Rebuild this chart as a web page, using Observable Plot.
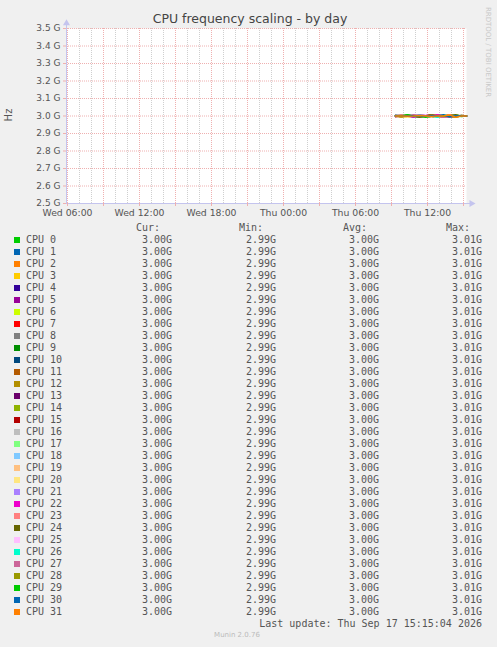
<!DOCTYPE html>
<html><head><meta charset="utf-8">
<script src="https://cdn.jsdelivr.net/npm/d3@7"></script>
<script src="https://cdn.jsdelivr.net/npm/@observablehq/plot@0.6"></script>
<style>
body{margin:0;background:#f0f0f0;width:497px;height:647px;overflow:hidden;font-family:"DejaVu Sans",sans-serif;}
#wrap{position:relative;width:497px;height:647px;}
#chart{position:absolute;left:0;top:0;}
.t{position:absolute;white-space:pre;line-height:12px;height:12px;}
.mono{font-family:"DejaVu Sans Mono",monospace;font-size:10px;color:#555;}
.sw{position:absolute;width:6px;height:6px;}
</style></head><body><div id="wrap"><div id="chart"></div></div>
<script>
// ---- data ----
const cpuNames = Array.from({length: 32}, (_, i) => "CPU " + i);
const cpuColors = ["#00cc00","#0066b3","#ff8000","#ffcc00","#330099","#990099","#ccff00","#ff0000",
  "#808080","#008f00","#00487d","#b35a00","#b38f00","#6b006b","#8fb300","#b30000",
  "#bebebe","#80ff80","#80c9ff","#ffc080","#ffe680","#aa80ff","#ee00cc","#ff8080",
  "#666600","#ffbfff","#00ffcc","#cc6699","#999900","#00cc00","#0066b3","#ff8000"];
// sample times on Thu Sep 17 2026 (UTC)
const times = ["09:20","09:50","10:20","10:50","11:20","11:50","12:20","12:50","13:20","13:50","14:20","14:50","15:15"];
// frequency in MHz per CPU
const cpuMHz = [
 [3002,2998,3007,3000,2996,3001,2993,3000,3003,2999,3001,2997,3000],
 [2999,3003,3000,2994,3001,3006,2998,3000,2997,3002,3000,3001,3000],
 [3000,2996,3001,3003,2999,3000,3007,2993,3000,3002,2998,3001,3000],
 [3001,3000,2993,2999,3004,3000,3001,2998,3007,3000,2997,3002,3000],
 [2997,3002,3000,3001,2993,2999,3003,3000,3001,3006,3000,2998,3000],
 [3003,2999,3001,2997,3000,3007,3000,3002,2994,3000,3001,2999,3000],
 [3000,3001,2998,3006,3000,2997,3002,2993,3000,3001,2999,3003,3000],
 [2998,3000,3003,3000,3001,2994,3000,2999,3002,3007,3000,3001,3000],
 [3001,3007,3000,2998,3002,3000,2997,3001,3000,2993,3003,2999,3000],
 [3000,2998,3002,3001,2993,3000,3004,3000,2999,3001,3007,2998,3000],
 [3004,3000,2999,3001,3000,3002,2993,3006,3000,2998,3001,3000,3000],
 [2999,3002,3000,2997,3007,3000,3001,2999,3003,3000,2994,3001,3000],
 [3000,2993,3001,3003,3000,2999,3000,3007,2998,3001,3002,3000,3000],
 [3002,3000,2997,3000,3001,3006,2999,3000,3001,2993,3000,3003,3000],
 [3001,2999,3006,3002,2998,3000,3001,2997,3000,3003,2993,3000,3000],
 [2996,3001,3000,2999,3003,3000,3007,3000,2994,3001,3000,3002,3000],
 [3000,3003,2999,3000,2993,3001,3000,3002,3006,2998,3001,3000,3000],
 [3003,3000,3001,2998,3000,2993,3002,3000,2999,3001,3007,2999,3000],
 [2999,3001,3000,3007,2998,3002,3000,2994,3001,3000,2999,3003,3000],
 [3001,2997,3003,3000,3002,3000,2993,3001,3000,3006,3000,2998,3000],
 [3000,3002,2993,3001,3000,2998,3003,3000,3007,2999,3001,3000,3000],
 [2998,3000,3001,3003,3006,3000,2999,3001,2993,3000,3002,3001,3000],
 [3002,2999,3000,2994,3001,3003,3000,3007,3000,2998,3001,3000,3000],
 [3000,3006,2998,3001,3000,2999,3002,3000,3001,2993,3000,3002,3000],
 [3001,3000,3003,2999,2993,3001,3000,2998,3002,3000,3007,2999,3000],
 [2997,3001,3000,3002,3000,3007,2998,3000,3001,3003,2994,3000,3000],
 [3000,2998,3002,3000,3003,3000,3001,2993,3006,3000,2999,3001,3000],
 [3003,3000,2999,3007,3000,3001,2998,3000,2993,3002,3000,3001,3000],
 [2999,3002,3000,3001,2997,3000,3006,3001,3000,2999,2993,3003,3000],
 [3001,3000,3007,2999,3001,2993,3000,3002,3000,3001,2998,3000,3000],
 [3000,2999,3001,3002,3000,2998,3003,3000,3007,2994,3001,3000,3000],
 [3000,3001,2999,3000,3002,3000,2998,3001,3000,3006,2993,3001,3000]
];
const yTicks = [2.5,2.6,2.7,2.8,2.9,3.0,3.1,3.2,3.3,3.4,3.5];
const yTickLabels = ["2.5 G","2.6 G","2.7 G","2.8 G","2.9 G","3.0 G","3.1 G","3.2 G","3.3 G","3.4 G","3.5 G"];
const xTickTimes = ["2026-09-16T06:00Z","2026-09-16T12:00Z","2026-09-16T18:00Z","2026-09-17T00:00Z","2026-09-17T06:00Z","2026-09-17T12:00Z"];
const xTickLabels = ["Wed 06:00","Wed 12:00","Wed 18:00","Thu 00:00","Thu 06:00","Thu 12:00"];
const title = "CPU frequency scaling - by day";
const yLabel = "Hz";
const lastUpdate = "Last update: Thu Sep 17 15:15:04 2026";
const footer = "Munin 2.0.76";
const sideText = "RRDTOOL / TOBI OETIKER";

// ---- build ----
const start = new Date("2026-09-16T05:55Z");
const end = new Date("2026-09-17T15:15Z");
const hours = d3.utcHour.range(d3.utcHour.ceil(start), end);
const minorX = hours.filter(d => d.getUTCHours() % 3 !== 0);
const majorX = hours.filter(d => d.getUTCHours() % 3 === 0);
const xTicks = xTickTimes.map(s => new Date(s));
const toTime = t => new Date(`2026-09-17T${t}Z`);
const series = cpuNames.flatMap((name, i) => times.map((t, j) => ({cpu: name, t: toTime(t), v: cpuMHz[i][j] / 1000, color: cpuColors[i]})));
const axisCol = "#c4c4ee";
const gridRed = "#efb0b0";

const chart = Plot.plot({
  width: 497, height: 222,
  marginLeft: 66, marginRight: 31, marginTop: 28, marginBottom: 19,
  style: {background: "transparent", fontFamily: "DejaVu Sans", fontSize: "9.3px", color: "#555", overflow: "visible"},
  x: {type: "utc", domain: [start, end]},
  y: {domain: [2.5, 3.5]},
  color: {type: "identity"},
  marks: [
    Plot.frame({fill: "white", stroke: null}),
    Plot.ruleX(minorX, {stroke: "#cfcfcf", strokeDasharray: "1,1"}),
    Plot.ruleX(majorX, {stroke: gridRed, strokeDasharray: "1,1"}),
    Plot.ruleY(yTicks.slice(1), {stroke: gridRed, strokeDasharray: "1,1"}),
    Plot.lineY(series, {x: "t", y: "v", z: "cpu", stroke: "color", strokeWidth: 1.4}),
    Plot.ruleX([start], {y1: 2.5, y2: 3.53, stroke: axisCol}),
    Plot.ruleY([2.5], {x1: start, x2: new Date(end.getTime() + 25 * 60000), stroke: axisCol}),
    Plot.dot([0], {x: () => start, y: () => 3.53, symbol: "triangle", r: 2.6, fill: axisCol, stroke: null}),
    Plot.dot([0], {x: () => new Date(end.getTime() + 25 * 60000), y: () => 2.5, symbol: "triangle", r: 2.6, rotate: 90, fill: axisCol, stroke: null}),
    Plot.axisY({ticks: yTicks, tickFormat: (d, i) => yTickLabels[i], tickSize: 3, tickPadding: 3, stroke: gridRed, fill: "#555", fontSize: 9, label: null}),
    Plot.axisX({ticks: majorX, tickFormat: () => "", tickSize: 3, stroke: gridRed, label: null}),
    Plot.axisX({ticks: xTicks, tickFormat: (d, i) => xTickLabels[i], tickSize: 0, tickPadding: 6, fill: "#555", label: null})
  ]
});
document.getElementById("chart").append(chart);

// ---- html texts ----
const wrap = document.getElementById("wrap");
function txt(s, opts) {
  const d = document.createElement("div");
  d.className = "t " + (opts.cls || "");
  d.textContent = s;
  if (opts.left != null) d.style.left = opts.left + "px";
  if (opts.right != null) { d.style.right = (497 - opts.right) + "px"; d.style.textAlign = "right"; }
  d.style.top = (opts.cy - 6) + "px";
  if (opts.style) Object.assign(d.style, opts.style);
  wrap.append(d);
  return d;
}
txt(title, {left: 0, cy: 19, style: {width: "500px", textAlign: "center", fontSize: "12.5px", color: "#444"}});
txt(yLabel, {left: 3, cy: 115, style: {fontSize: "10px", color: "#555", transform: "rotate(-90deg)", transformOrigin: "center"}});
txt(sideText, {left: 440, cy: 52, style: {width: "96px", textAlign: "center", fontSize: "7px", color: "#c8c8c8", transform: "rotate(90deg)", transformOrigin: "center"}});

const fmt = m => (Math.round(m / 10) / 100).toFixed(2) + "G";
const cols = [{h: "Cur:", he: 160, ve: 172}, {h: "Min:", he: 263, ve: 276}, {h: "Avg:", he: 367, ve: 379}, {h: "Max:", he: 470, ve: 482}];
cols.forEach(c => txt(c.h, {right: c.he, cy: 228, cls: "mono"}));
cpuNames.forEach((name, i) => {
  const cy = 240 + 12 * i;
  const sw = document.createElement("div");
  sw.className = "sw";
  sw.style.left = "14px"; sw.style.top = (cy - 3) + "px"; sw.style.background = cpuColors[i];
  wrap.append(sw);
  txt(name, {left: 26, cy, cls: "mono"});
  const v = cpuMHz[i];
  const vals = [v[v.length - 1], d3.min(v), d3.mean(v), d3.max(v)];
  cols.forEach((c, k) => txt(fmt(vals[k]), {right: c.ve, cy, cls: "mono"}));
});
txt(lastUpdate, {right: 482, cy: 624, cls: "mono"});
txt(footer, {left: 0, cy: 635, style: {width: "474px", textAlign: "center", fontSize: "7px", color: "#bbb"}});
</script></body></html>
